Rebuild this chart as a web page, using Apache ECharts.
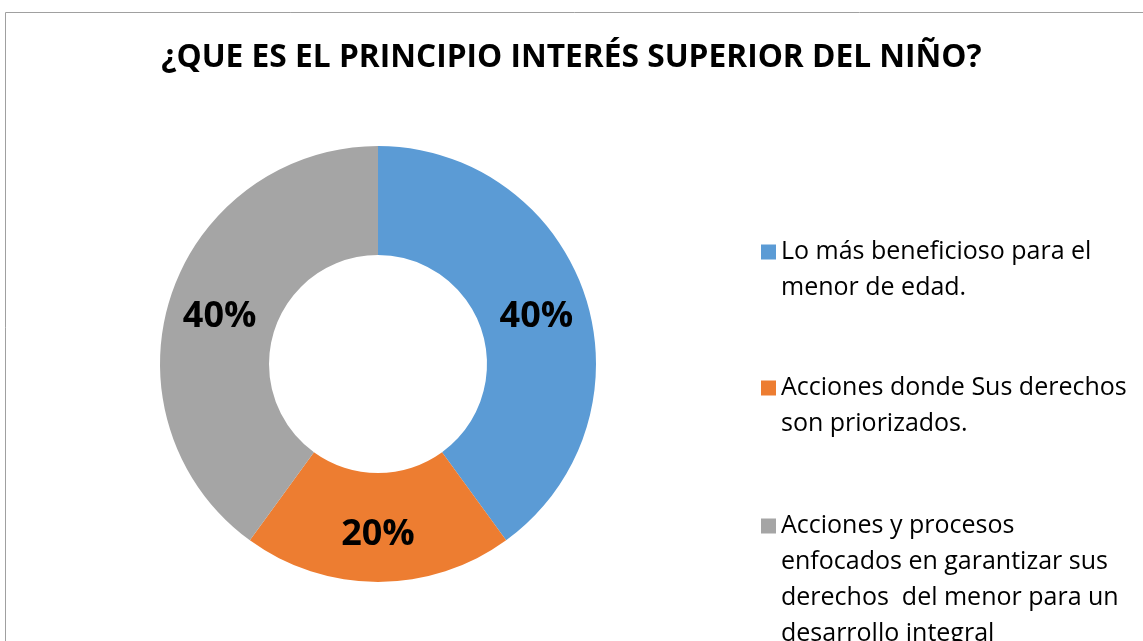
<!DOCTYPE html>
<html>
<head>
<meta charset="utf-8">
<script src="https://cdn.jsdelivr.net/npm/echarts@6/dist/echarts.min.js"></script>
<style>
  html, body { margin: 0; padding: 0; background: #fff; }
  #chart { width: 1143px; height: 641px; }
</style>
</head>
<body>
<div id="chart"></div>
<script>
// datos del gráfico
var categorias = [
    'Lo más beneficioso para el menor de edad.',
    'Acciones donde Sus derechos son priorizados.',
    'Acciones y procesos enfocados en garantizar sus derechos  del menor para un desarrollo integral'
];
var valores = [40, 20, 40];
// líneas de la leyenda, tal como aparecen cortadas
var lineasLeyenda = [
    ['Lo más beneficioso para el', 'menor de edad.'],
    ['Acciones donde Sus derechos', 'son priorizados.'],
    ['Acciones y procesos', 'enfocados en garantizar sus', 'derechos  del menor para un', 'desarrollo integral']
];
var colores = ['#5B9BD5', '#ED7D31', '#A5A5A5'];

var altoLinea = 36;
var centrosLeyenda = [252, 388, 526];

// el icono queda centrado en el bloque de texto; con líneas vacías arriba
// la primera línea real cae a la altura del icono
function crearLeyenda(i) {
    var n = lineasLeyenda[i].length;
    var vacias = [];
    for (var k = 0; k < n - 1; k++) vacias.push('');
    return {
        orient: 'vertical',
        left: 761,
        top: centrosLeyenda[i] - (2 * n - 1) * altoLinea / 2,
        padding: 0,
        itemWidth: 15,
        itemHeight: 15,
        itemGap: 0,
        icon: 'rect',
        selectedMode: false,
        data: [categorias[i]],
        formatter: function () {
            return vacias.concat(lineasLeyenda[i]).join('\n');
        },
        textStyle: {
            fontFamily: 'Open Sans',
            fontSize: 25,
            color: '#000',
            lineHeight: altoLinea
        }
    };
}

var opcion = {
    backgroundColor: '#fff',
    color: colores,
    animation: false,
    title: {
        text: '¿QUE ES EL PRINCIPIO INTERÉS SUPERIOR DEL NIÑO?',
        left: 'center',
        top: 37,
        textStyle: {
            fontFamily: 'Open Sans',
            fontWeight: 'bold',
            fontSize: 31.7,
            color: '#000'
        }
    },
    legend: [crearLeyenda(0), crearLeyenda(1), crearLeyenda(2)],
    graphic: [{
        type: 'rect',
        shape: { x: 5.5, y: 12.5, width: 1200, height: 700 },
        style: { fill: 'none', stroke: '#A0A0A0', lineWidth: 1 },
        silent: true
    }],
    series: [{
        name: 'Principio',
        type: 'pie',
        center: [378, 364],
        radius: [109, 218],
        startAngle: 90,
        clockwise: true,
        avoidLabelOverlap: false,
        label: {
            show: true,
            position: 'inside',
            formatter: '{c}%',
            offset: [0, 4],
            fontFamily: 'Open Sans',
            fontWeight: 'bold',
            fontSize: 36,
            color: '#000'
        },
        labelLine: { show: false },
        itemStyle: { borderWidth: 0 },
        emphasis: { disabled: true },
        data: categorias.map(function (c, i) {
            return { name: c, value: valores[i] };
        })
    }]
};

var grafico = echarts.init(document.getElementById('chart'));
grafico.setOption(opcion);
</script>
</body>
</html>
